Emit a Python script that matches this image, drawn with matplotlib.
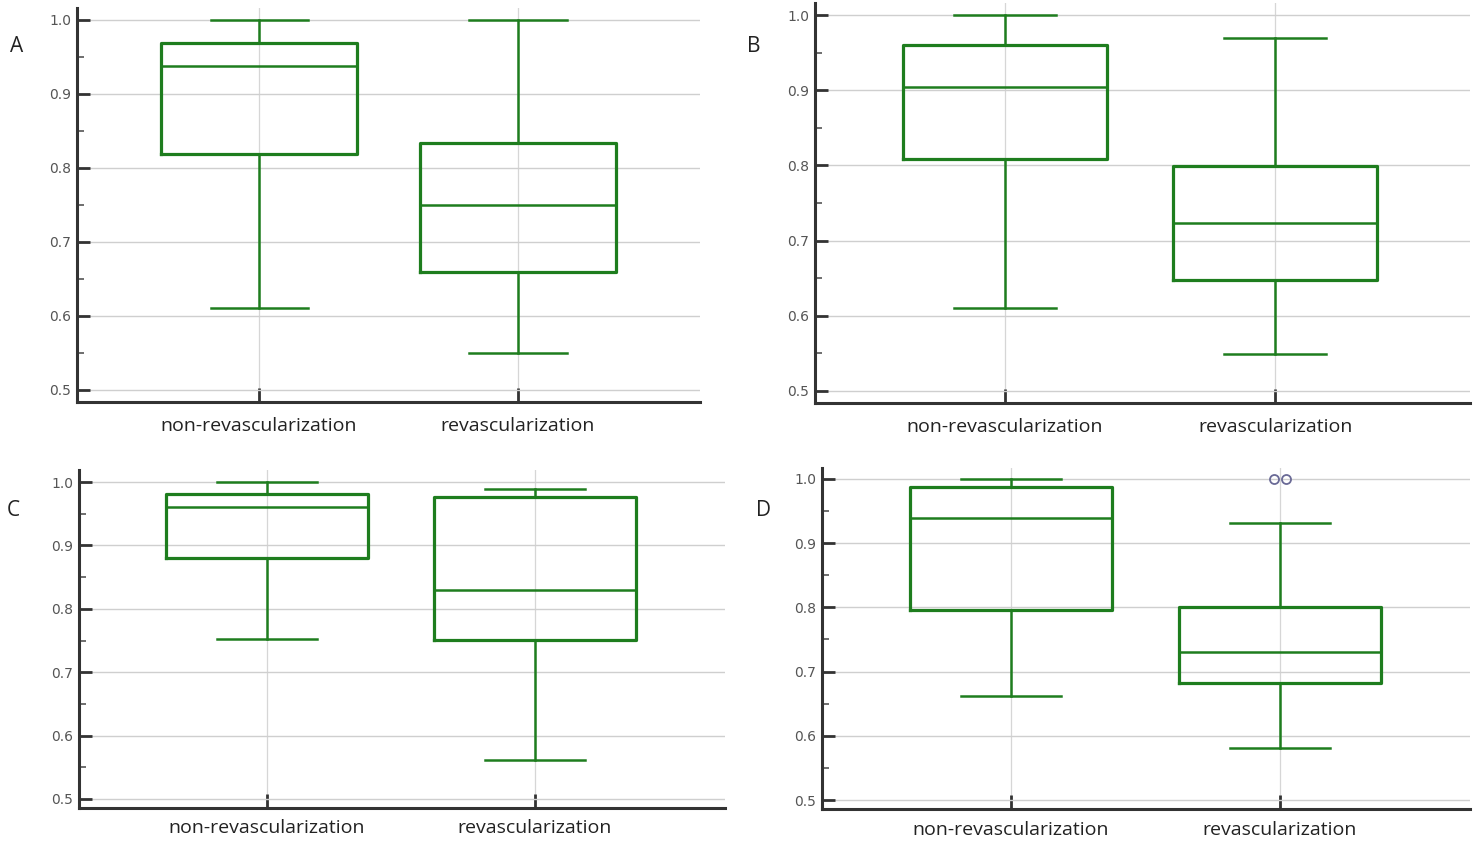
import matplotlib
matplotlib.use("Agg")
import matplotlib.pyplot as plt
from matplotlib import font_manager

categories = ["non-revascularization", "revascularization"]
panel_letters = ["A", "B", "C", "D"]

# per-panel stats: [non-revascularization, revascularization]
A_whislo = [0.611, 0.550]; A_q1 = [0.819, 0.659]; A_med = [0.938, 0.750]; A_q3 = [0.969, 0.834]; A_whishi = [1.000, 1.000]
B_whislo = [0.610, 0.549]; B_q1 = [0.809, 0.648]; B_med = [0.904, 0.723]; B_q3 = [0.960, 0.799]; B_whishi = [1.000, 0.969]
C_whislo = [0.752, 0.562]; C_q1 = [0.880, 0.751]; C_med = [0.961, 0.830]; C_q3 = [0.981, 0.976]; C_whishi = [1.000, 0.989]
D_whislo = [0.662, 0.581]; D_q1 = [0.796, 0.682]; D_med = [0.939, 0.730]; D_q3 = [0.988, 0.800]; D_whishi = [1.000, 0.931]
D_outliers_rev = [1.0, 1.0]

yticks = [0.5, 0.6, 0.7, 0.8, 0.9, 1.0]
ytick_labels = ["0.5", "0.6", "0.7", "0.8", "0.9", "1.0"]

panels = [
    (A_whislo, A_q1, A_med, A_q3, A_whishi),
    (B_whislo, B_q1, B_med, B_q3, B_whishi),
    (C_whislo, C_q1, C_med, C_q3, C_whishi),
    (D_whislo, D_q1, D_med, D_q3, D_whishi),
]

# layout (figure fractions) and axis limits per panel
rects = [
    [0.0520, 0.5226, 0.4207, 0.4680],
    [0.5503, 0.5214, 0.4423, 0.4750],
    [0.0533, 0.0404, 0.4362, 0.4014],
    [0.5550, 0.0392, 0.4375, 0.4050],
]
ylims = [(0.4838, 1.016), (0.484, 1.016), (0.4858, 1.019), (0.486, 1.017)]
xlims = [(0.297, 2.703), (0.296, 2.722), (0.2985, 2.709), (0.297, 2.706)]
xpads = [11, 11, 8, 9]
letter_pos = [(17, 46), (754, 46), (13, 510), (764, 510)]

avail = {f.name for f in font_manager.fontManager.ttflist}
tick_font = "Liberation Sans Narrow" if "Liberation Sans Narrow" in avail else "DejaVu Sans"
label_font = "Open Sans" if "Open Sans" in avail else "DejaVu Sans"

green = "#1e7d1e"
W, H = 1481, 842
fig = plt.figure(figsize=(W / 100, H / 100), dpi=100)

for i, (stats_arr, rect) in enumerate(zip(panels, rects)):
    ax = fig.add_axes(rect)
    wlo, q1, med, q3, whi = stats_arr
    stats = []
    for k in range(2):
        stats.append(dict(med=med[k], q1=q1[k], q3=q3[k], whislo=wlo[k], whishi=whi[k], fliers=[], label=categories[k]))
    ax.bxp(stats, positions=[1, 2], widths=0.754, showfliers=False,
           boxprops=dict(color=green, linewidth=2.3),
           medianprops=dict(color=green, linewidth=1.8),
           whiskerprops=dict(color=green, linewidth=1.8),
           capprops=dict(color=green, linewidth=1.8),
           capwidths=0.375, zorder=3)
    if i == 3:
        offs = [-0.022, 0.022]
        for v, o in zip(D_outliers_rev, offs):
            ax.plot([2 + o], [v], marker="o", markersize=6.5, markerfacecolor="none",
                    markeredgecolor="#6a6a96", markeredgewidth=1.3, linestyle="none", zorder=4, clip_on=False)
    ax.set_xlim(*xlims[i])
    ax.set_ylim(*ylims[i])
    ax.set_yticks(yticks)
    ax.set_yticklabels(ytick_labels, fontfamily=tick_font, fontsize=10, color="#555555")
    ax.set_yticks([0.55, 0.65, 0.75, 0.85, 0.95], minor=True)
    ax.set_xticks([1, 2])
    ax.set_xticklabels(categories, fontfamily=label_font, fontsize=14, color="#222222")
    ax.tick_params(axis="y", which="major", direction="in", length=9, width=2, color="#333333", pad=4)
    ax.tick_params(axis="y", which="minor", direction="in", length=5, width=1.2, color="#555555")
    ax.tick_params(axis="x", which="major", direction="in", length=10, width=2, color="#333333", pad=xpads[i])
    for s in ["top", "right"]:
        ax.spines[s].set_visible(False)
    for s in ["left", "bottom"]:
        ax.spines[s].set_linewidth(2.2)
        ax.spines[s].set_color("#333333")
    ax.grid(axis="y", color="#cfcfcf", linewidth=1.0, zorder=0)
    ax.grid(axis="x", color="#d6d6d6", linewidth=0.9, zorder=0)
    ax.set_axisbelow(True)
    lx, ly = letter_pos[i]
    fig.text(lx / W, 1 - ly / H, panel_letters[i], fontsize=15, fontfamily=label_font,
             color="#222222", ha="center", va="center")

fig.savefig("out.png", dpi=100, facecolor="white")
